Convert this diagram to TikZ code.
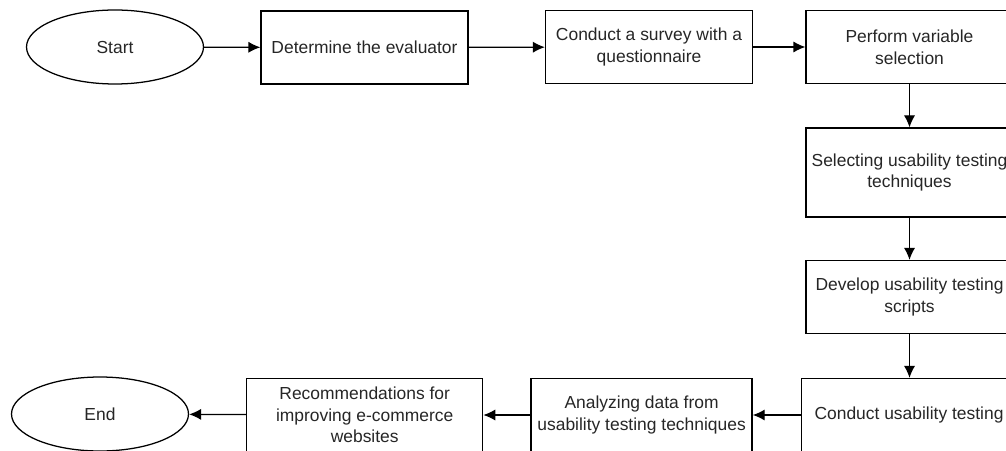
\documentclass[tikz,border=0pt]{standalone}
\usepackage{fontspec}
\setmainfont{Liberation Sans}
\usepackage{tikz}
\usetikzlibrary{shapes.geometric,arrows.meta,positioning,calc}

\tikzset{
  stepbox/.style={draw, line width=0.9pt, rectangle, align=center,
    minimum width=5.175cm, minimum height=1.825cm, inner sep=2pt,
    text=black!85, font=\fontsize{12.4}{15.4}\selectfont},
  terminal/.style={draw, line width=0.9pt, ellipse, minimum width=4.425cm,
    minimum height=1.85cm, inner sep=0pt, text=black!85,
    font=\fontsize{12.4}{15.4}\selectfont},
  flow/.style={line width=0.9pt, -{Latex[length=3mm,width=2.8mm]}}
}

\begin{document}
\begin{tikzpicture}
      \useasboundingbox (0,0) rectangle (25.15,11.25);
      \clip (0,0) rectangle (25.15,11.25);

      % top row
      \node[terminal] (start) at (2.875,10.075) {Start};
      \node[stepbox] (evaluator) at (9.1125,10.0625) {Determine the evaluator};
      \node[stepbox] (survey) at (16.225,10.075) {Conduct a survey with a\\questionnaire};
      \node[stepbox] (variable) at (22.7375,10.075) {Perform variable\\selection};

      % right column
      \node[stepbox, minimum height=2.225cm] (techniques) at (22.7375,6.9375) {Selecting usability testing\\techniques};
      \node[stepbox] (scripts) at (22.7375,3.825) {Develop usability testing\\scripts};

      % bottom row
      \node[stepbox, minimum width=5.375cm] (testing) at (22.725,0.875) {Conduct usability testing};
      \node[stepbox, minimum width=5.525cm] (analyzing) at (16.04,0.875) {Analyzing data from\\usability testing techniques};
      \node[stepbox, minimum width=5.9cm] (recommend) at (9.1175,0.875) {Recommendations for\\improving e-commerce\\websites};
      \node[terminal] (end) at (2.5,0.9) {End};

      \draw[flow] (start) -- (evaluator);
      \draw[flow] (evaluator) -- (survey);
      \draw[flow] (survey) -- (variable);
      \draw[flow] (variable) -- (techniques);
      \draw[flow] (techniques) -- (scripts);
      \draw[flow] (scripts) -- (scripts |- testing.north);
      \draw[flow] (testing) -- (analyzing);
      \draw[flow] (analyzing) -- (recommend);
      \draw[flow] (recommend) -- (end);
\end{tikzpicture}
\end{document}
